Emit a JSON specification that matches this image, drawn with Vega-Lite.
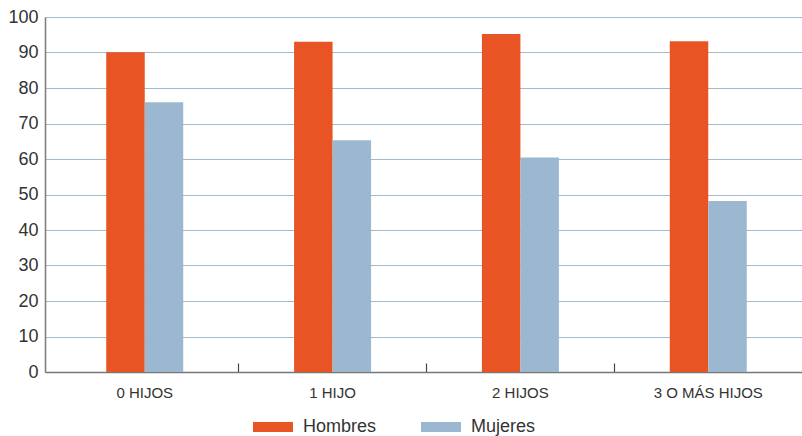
{
  "$schema": "https://vega.github.io/schema/vega-lite/v6.json",
  "autosize": {"type": "none"},
  "padding": {"left": 45, "top": 17, "right": 0, "bottom": 64},
  "width": 763,
  "height": 355,
  "background": "white",
  "data": {
    "values": [
      {"hijos": "0 HIJOS", "sexo": "Hombres", "valor": 90.1},
      {"hijos": "0 HIJOS", "sexo": "Mujeres", "valor": 76.0},
      {"hijos": "1 HIJO", "sexo": "Hombres", "valor": 93.0},
      {"hijos": "1 HIJO", "sexo": "Mujeres", "valor": 65.3},
      {"hijos": "2 HIJOS", "sexo": "Hombres", "valor": 95.2},
      {"hijos": "2 HIJOS", "sexo": "Mujeres", "valor": 60.4},
      {"hijos": "3 O MÁS HIJOS", "sexo": "Hombres", "valor": 93.2},
      {"hijos": "3 O MÁS HIJOS", "sexo": "Mujeres", "valor": 48.2}
    ]
  },
  "encoding": {
    "x": {
      "field": "hijos",
      "type": "nominal",
      "sort": null,
      "scale": {"paddingInner": 0, "paddingOuter": 0.031},
      "axis": {
        "title": null,
        "labelAngle": 0,
        "labelFont": "Liberation Sans",
        "labelFontSize": 15,
        "labelColor": "#333333",
        "labelPadding": 22,
        "bandPosition": 0,
        "ticks": true,
        "tickSize": -9,
        "tickColor": "#444444",
        "tickWidth": 1.2,
        "tickOpacity": {"condition": {"test": "datum.value === '0 HIJOS'", "value": 0}, "value": 1},
        "domainColor": "#777777",
        "domainWidth": 1.6,
        "grid": false
      }
    },
    "y": {
      "field": "valor",
      "type": "quantitative",
      "scale": {"domain": [0, 100], "nice": false},
      "axis": {
        "title": null,
        "values": [0, 10, 20, 30, 40, 50, 60, 70, 80, 90, 100],
        "labelFont": "Liberation Sans",
        "labelFontSize": 18,
        "labelColor": "#333333",
        "labelPadding": 7,
        "ticks": false,
        "domainColor": "#808080",
        "domainWidth": 1.6,
        "grid": true,
        "gridColor": "#a3bacd",
        "gridWidth": 1.2
      }
    },
    "color": {
      "field": "sexo",
      "type": "nominal",
      "scale": {"domain": ["Hombres", "Mujeres"], "range": ["#e85424", "#9cb8d0"]},
      "legend": {
        "title": null,
        "orient": "none",
        "direction": "horizontal",
        "legendX": 208,
        "legendY": 390,
        "padding": 0,
        "symbolType": "M-1,-0.25H1V0.25H-1Z",
        "symbolSize": 1600,
        "symbolStrokeWidth": 0,
        "symbolOpacity": 1,
        "labelFont": "Liberation Sans",
        "labelFontSize": 18,
        "labelColor": "#333333",
        "labelOffset": 10,
        "columnPadding": 44
      }
    }
  },
  "layer": [
    {
      "transform": [{"filter": "datum.sexo === 'Hombres'"}],
      "mark": {"type": "bar", "width": 38.5, "xOffset": -19.25}
    },
    {
      "transform": [{"filter": "datum.sexo === 'Mujeres'"}],
      "mark": {"type": "bar", "width": 38.5, "xOffset": 19.25}
    }
  ],
  "config": {
    "view": {"stroke": null},
    "axis": {"domainCap": "butt"}
  }
}
